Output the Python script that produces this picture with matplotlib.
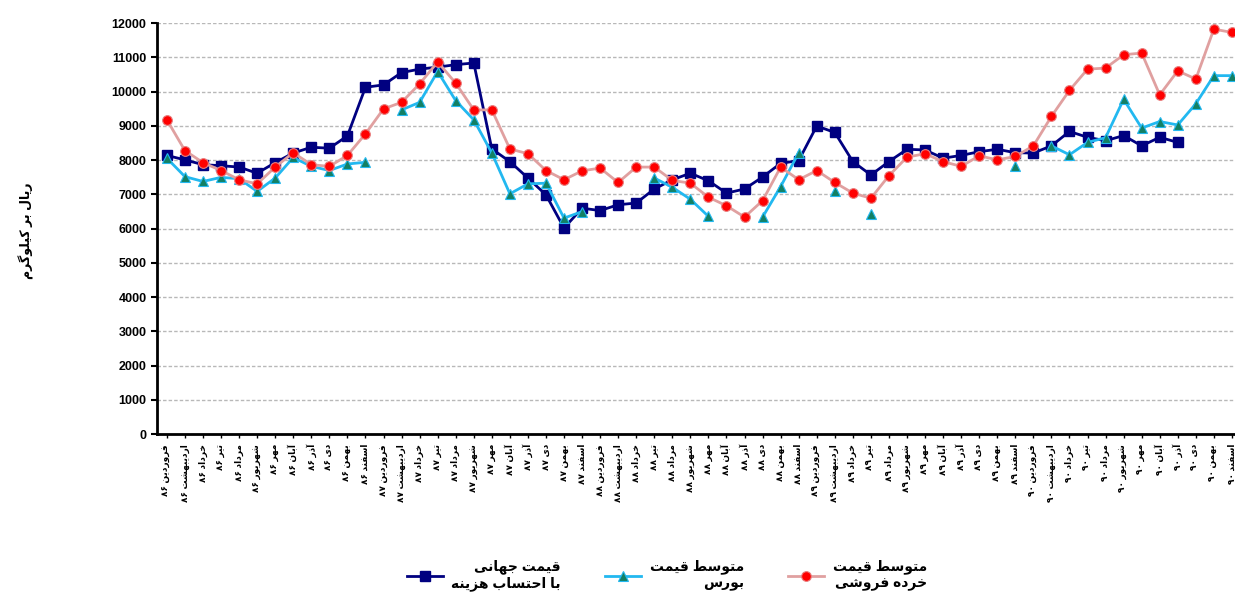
import matplotlib
matplotlib.use('Agg')
import matplotlib.pyplot as plt
import numpy as np

plt.rcParams['font.family'] = ['Liberation Sans', 'DejaVu Sans']

# persian months and years (1386 - 1390)
months = ['فروردین', 'اردیبهشت', 'خرداد', 'تیر', 'مرداد', 'شهریور',
          'مهر', 'آبان', 'آذر', 'دی', 'بهمن', 'اسفند']
years = ['۸۶', '۸۷', '۸۸', '۸۹', '۹۰']
labels = [m + ' ' + y for y in years for m in months]

nan = np.nan
world = [8140, 8010, 7870, 7840, 7800, 7620, 7930, 8210, 8380, 8350, 8710, 10130,
         10200, 10560, 10660, 10720, 10790, 10840, 8330, 7960, 7480, 6990, 6020, 6600,
         6530, 6700, 6750, 7160, 7430, 7620, 7400, 7040, 7160, 7510, 7910, 7990,
         9000, 8810, 7960, 7570, 7960, 8320, 8300, 8060, 8140, 8250, 8320, 8220,
         8210, 8420, 8840, 8670, 8570, 8720, 8420, 8670, 8520, nan, nan, nan]
bourse = [8060, 7520, 7380, 7500, 7460, 7090, 7480, 8080, 7820, 7700, 7890, 7940,
          nan, 9470, 9690, 10590, 9740, 9180, 8210, 7020, 7310, 7330, 6310, 6500,
          nan, nan, nan, 7480, 7210, 6860, 6360, nan, nan, 6340, 7230, 8220,
          nan, 7110, nan, 6430, nan, nan, nan, nan, nan, nan, nan, 7840,
          nan, 8420, 8160, 8520, 8660, 9780, 8940, 9130, 9030, 9650, 10470, 10470]
retail = [9180, 8280, 7930, 7700, 7430, 7310, 7800, 8220, 7870, 7820, 8140, 8770,
          9500, 9690, 10230, 10870, 10250, 9470, 9470, 8330, 8190, 7700, 7430, 7690,
          7770, 7350, 7800, 7800, 7410, 7330, 6920, 6670, 6340, 6820, 7800, 7430,
          7700, 7350, 7040, 6890, 7550, 8090, 8190, 7960, 7820, 8130, 8010, 8110,
          8420, 9280, 10040, 10660, 10690, 11080, 11130, 9910, 10610, 10370, 11830, 11730]

ylabel_text = 'ریال بر کیلوگرم'
legend_labels = ['قیمت جهانی\nبا احتساب هزینه', 'متوسط قیمت\nبورس', 'متوسط قیمت\nخرده فروشی']

# simple arabic/persian shaping, matplotlib has no bidi support
DUAL = {'ب': 0xFE8F, 'پ': 0xFB56, 'ت': 0xFE95, 'ث': 0xFE99, 'ج': 0xFE9D, 'چ': 0xFB7A,
        'ح': 0xFEA1, 'خ': 0xFEA5, 'س': 0xFEB1, 'ش': 0xFEB5, 'ص': 0xFEB9, 'ض': 0xFEBD,
        'ط': 0xFEC1, 'ظ': 0xFEC5, 'ع': 0xFEC9, 'غ': 0xFECD, 'ف': 0xFED1, 'ق': 0xFED5,
        'ک': 0xFB8E, 'گ': 0xFB92, 'ل': 0xFEDD, 'م': 0xFEE1, 'ن': 0xFEE5, 'ه': 0xFEE9,
        'ی': 0xFBFC}
RIGHT = {'ا': 0xFE8D, 'آ': 0xFE81, 'د': 0xFEA9, 'ذ': 0xFEAB, 'ر': 0xFEAD, 'ز': 0xFEAF,
         'ژ': 0xFB8A, 'و': 0xFEED}


def shape_word(w):
    out = []
    for k, ch in enumerate(w):
        prev = w[k - 1] if k > 0 else ''
        nxt = w[k + 1] if k + 1 < len(w) else ''
        jp = prev in DUAL
        if ch in DUAL:
            jn = nxt in DUAL or nxt in RIGHT
            form = (3 if jn else 1) if jp else (2 if jn else 0)
            out.append(chr(DUAL[ch] + form))
        elif ch in RIGHT:
            out.append(chr(RIGHT[ch] + (1 if jp else 0)))
        else:
            out.append(ch)
    if all(c.isdigit() for c in w):
        return w
    return ''.join(reversed(out))


def fa(text):
    lines = []
    for line in text.split('\n'):
        words = [shape_word(w) for w in line.split(' ')]
        lines.append(' '.join(reversed(words)))
    return '\n'.join(lines)


x = np.arange(len(labels))

fig = plt.figure(figsize=(12.35, 6.07), dpi=100)
ax = fig.add_axes([0.1271, 0.2847, 0.8729, 0.677])

ax.plot(x, world, color='#000080', lw=2, marker='s', ms=7.5, mfc='#000080', mec='#000080',
        label=fa(legend_labels[0]), zorder=3)
ax.plot(x, bourse, color='#22B8F0', lw=2, marker='^', ms=6.5, mfc='#138064', mec='#22B8F0',
        mew=0.8, label=fa(legend_labels[1]), zorder=4)
ax.plot(x, retail, color='#E0A0A0', lw=2, marker='o', ms=7, mfc='#FF0000', mec='#E88080',
        mew=0.8, label=fa(legend_labels[2]), zorder=5)

ax.set_xlim(-0.55, 59.17)
ax.set_ylim(0, 12000)
ax.set_yticks(np.arange(0, 12001, 1000))
ax.yaxis.grid(True, color='#B8B8B8', linestyle=(0, (2.5, 1.5)), lw=1)
ax.set_axisbelow(True)

ax.spines['top'].set_visible(False)
ax.spines['right'].set_visible(False)
ax.spines['left'].set_linewidth(2)
ax.spines['bottom'].set_linewidth(2)

ax.set_xticks(x)
ax.set_xticklabels([fa(l) for l in labels], rotation=90, fontsize=6.5, fontweight='bold',
                   va='top', ha='center')
ax.tick_params(axis='x', length=3, width=1, direction='out', pad=4)
ax.tick_params(axis='y', length=4, width=1.5, direction='out', labelsize=9)
for t in ax.get_yticklabels():
    t.set_fontweight('bold')

fig.text(0.021, 0.62, fa(ylabel_text), rotation=90, fontsize=9, fontweight='bold',
         ha='center', va='center')

leg = fig.legend(loc='center', bbox_to_anchor=(0.54, 0.052), ncol=3, frameon=False,
                 handlelength=2.6, handletextpad=0.6, columnspacing=3.2,
                 prop={'weight': 'bold', 'size': 10})
for t in leg.get_texts():
    t.set_multialignment('right')

fig.savefig('out.png', dpi=100)
